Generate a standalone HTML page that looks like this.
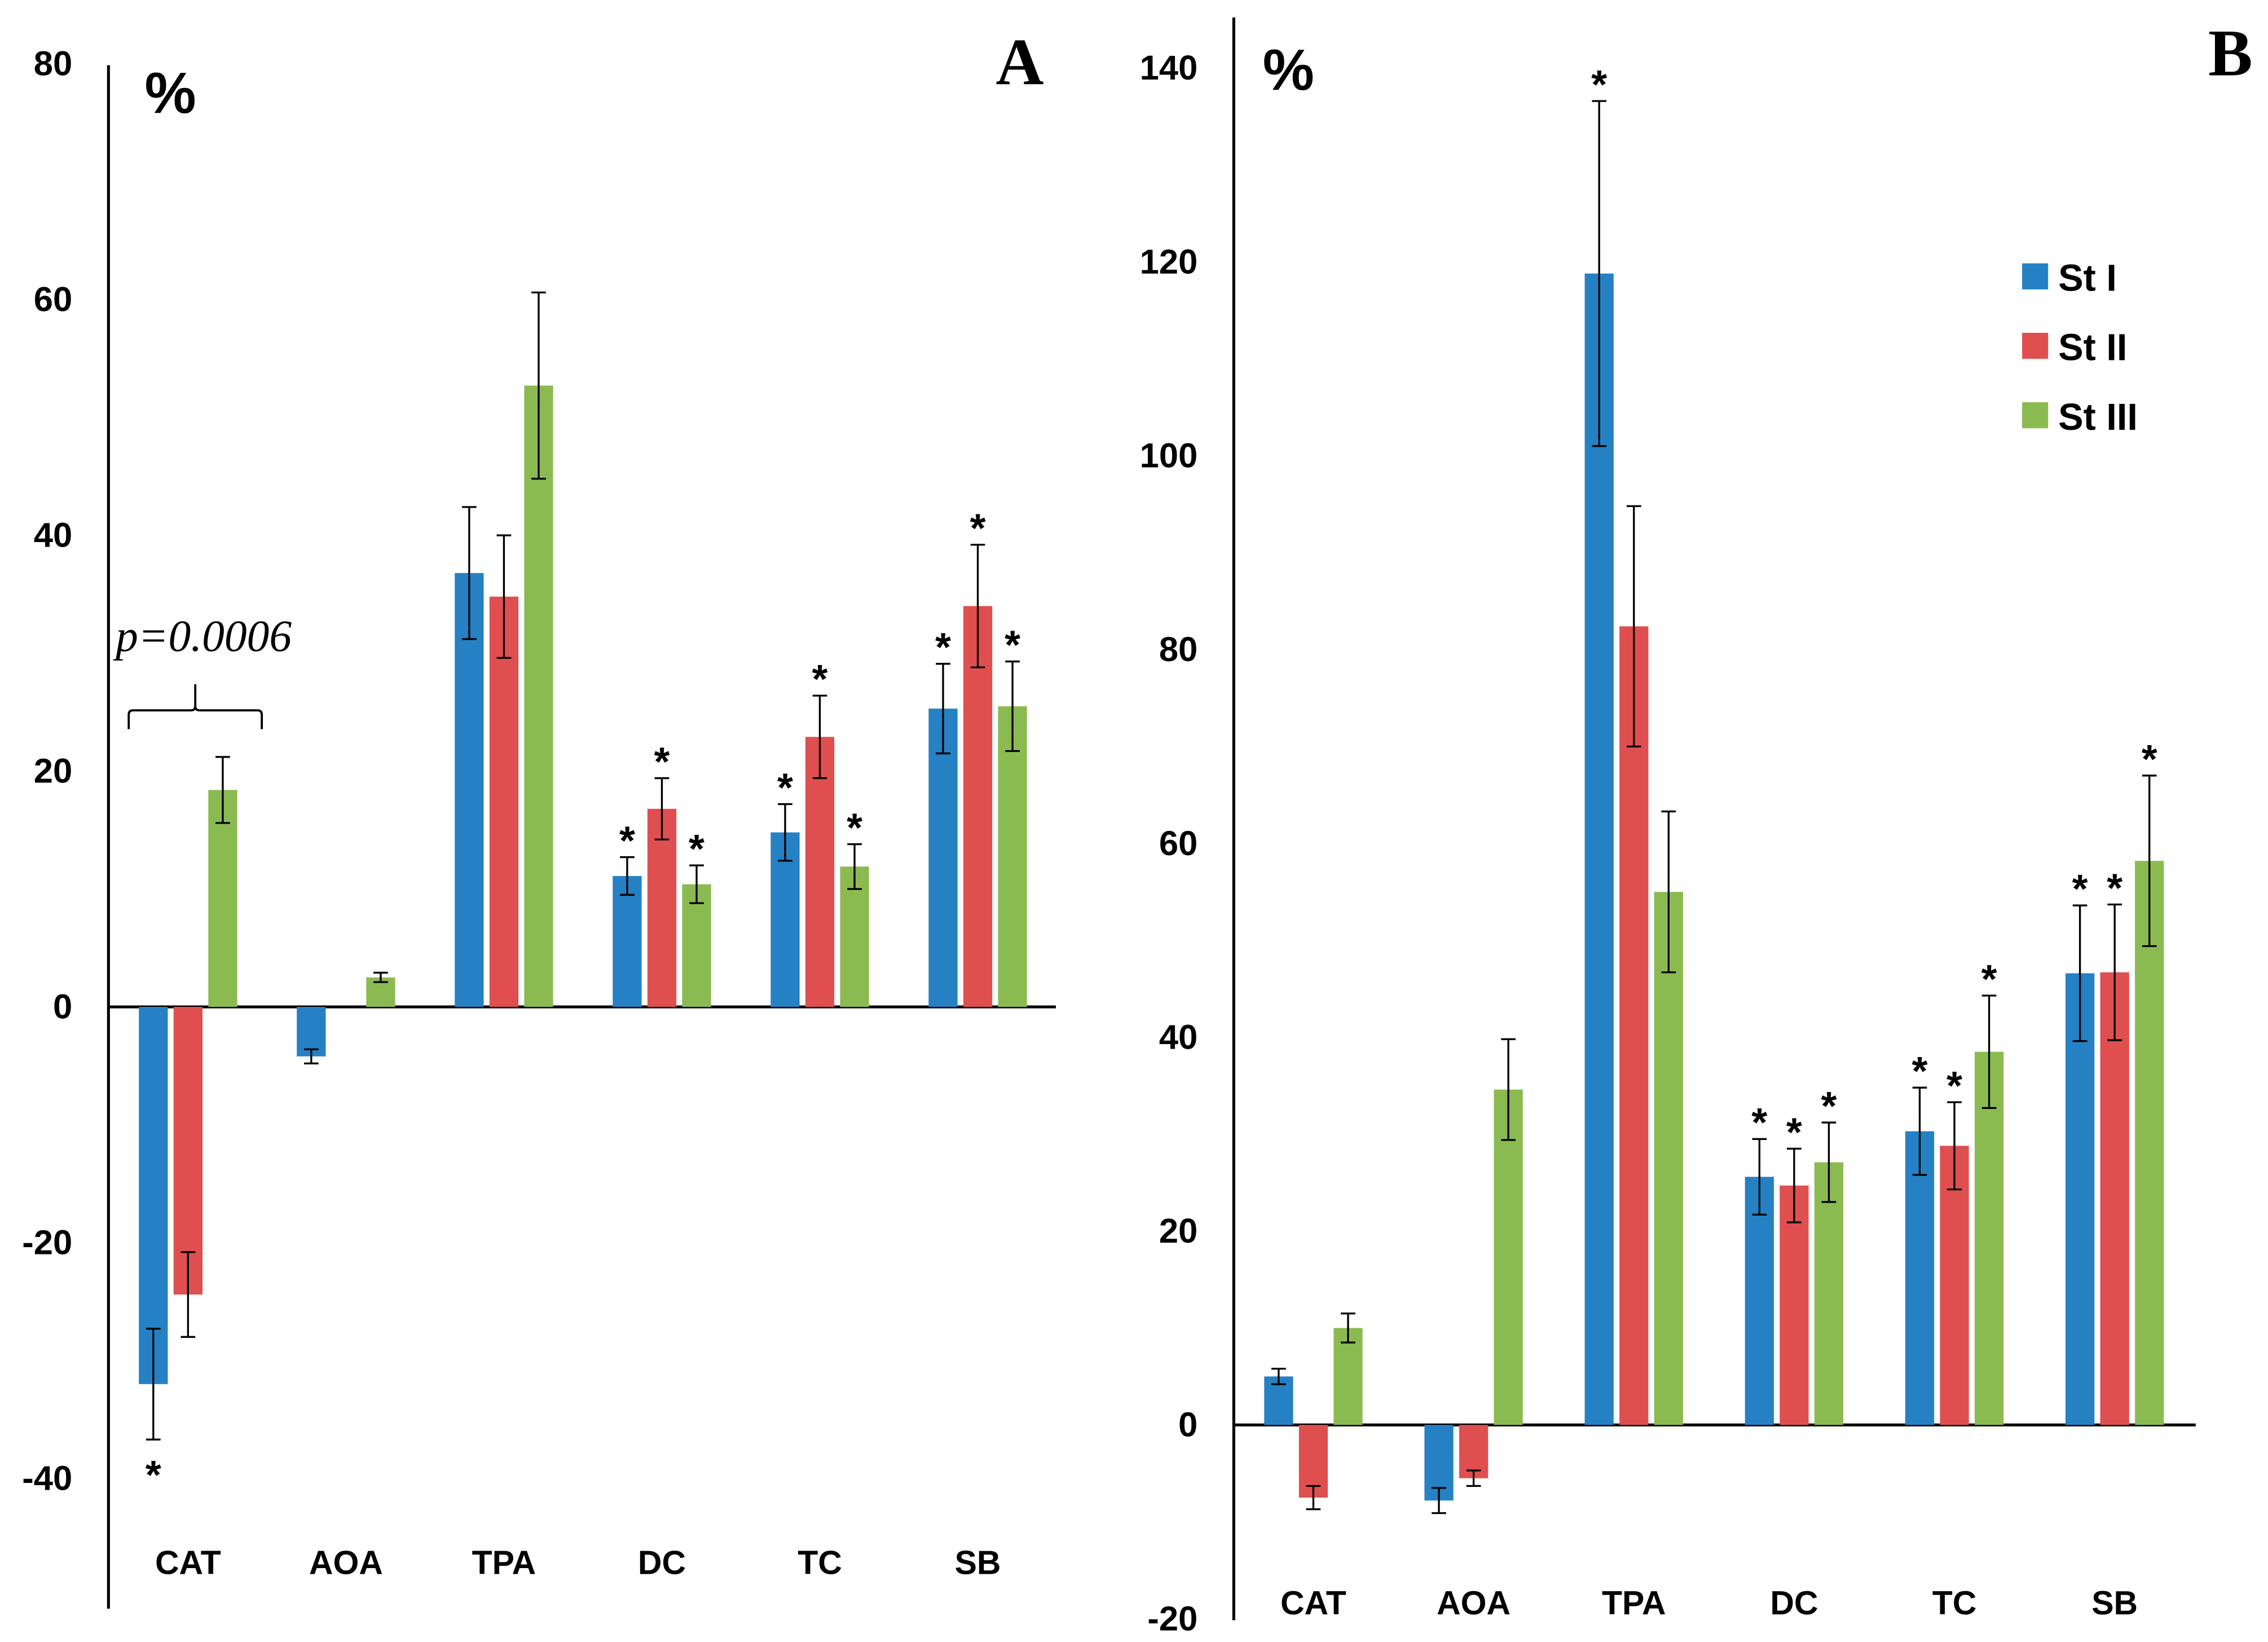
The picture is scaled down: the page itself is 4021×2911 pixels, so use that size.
<!DOCTYPE html>
<html><head><meta charset="utf-8"><style>
html,body{margin:0;padding:0;background:#fff}
svg{display:block}
text{font-family:"Liberation Sans",sans-serif;font-weight:bold;fill:#000}
</style></head><body>
<svg id="chart" width="4021" height="2911" viewBox="0 0 1568 1135" xmlns="http://www.w3.org/2000/svg"></svg>
<script>
const categories = ["CAT","AOA","TPA","DC","TC","SB"];
const seriesNames = ["St I","St II","St III"];
const colors = ["#2581c4","#e04f4f","#8bbb50"];
const aTicks = [80,60,40,20,0,-20,-40];
const aSt1 = [-32,-4.2,36.8,11.1,14.8,25.3];
const aSt2 = [-24.4,0,34.8,16.8,22.9,34.0];
const aSt3 = [18.4,2.5,52.7,10.4,11.9,25.5];
const aErr1 = [4.7,0.6,5.6,1.6,2.4,3.8];
const aErr2 = [3.6,0,5.2,2.6,3.5,5.2];
const aErr3 = [2.8,0.4,7.9,1.6,1.9,3.8];
const aStar1 = [1,0,0,1,1,1];
const aStar2 = [0,0,0,1,1,1];
const aStar3 = [0,0,0,1,1,1];
const bTicks = [140,120,100,80,60,40,20,0,-20];
const bSt1 = [5,-7.8,118.8,25.6,30.3,46.6];
const bSt2 = [-7.5,-5.5,82.4,24.7,28.8,46.7];
const bSt3 = [10,34.6,55,27.1,38.5,58.2];
const bErr1 = [0.8,1.3,17.8,3.9,4.5,7.0];
const bErr2 = [1.2,0.8,12.4,3.8,4.5,7.0];
const bErr3 = [1.5,5.2,8.3,4.1,5.8,8.8];
const bStar1 = [0,0,1,1,1,1];
const bStar2 = [0,0,0,1,1,1];
const bStar3 = [0,0,0,1,1,1];

const svg = document.getElementById('chart');
const NS = "http://www.w3.org/2000/svg";
function mk(tag, attrs, parent){const e=document.createElementNS(NS,tag);for(const k in attrs)e.setAttribute(k,attrs[k]);(parent||svg).appendChild(e);return e;}

function panel(p){
  const g = mk('g',{});
  
  
  const y = v => p.y0 - v*p.ppu;
  const x = i => p.x0 + i*p.step;
  const ax = mk('line',{x1:p.ax,y1:p.axTop,x2:p.ax,y2:p.axBot,stroke:'#000','stroke-width':2},g);
  
  
  const xa = mk('line',{x1:p.ax,y1:y(0),x2:p.xEnd,y2:y(0),stroke:'#000','stroke-width':2},g);
  
  
  p.ticks.forEach(t=>{
    const tx = mk('text',{x:p.tickX,y:y(t)+8,'text-anchor':'end','font-size':24},g);
    tx.textContent = t;
    
    
  });
  categories.forEach((c,i)=>{
    const tx = mk('text',{x:x(i),y:p.catY,'text-anchor':'middle','font-size':23},g);
    tx.textContent = c;
    
    
  });
  const series=[p.s1,p.s2,p.s3], errs=[p.e1,p.e2,p.e3], stars=[p.st1,p.st2,p.st3];
  series.forEach((s,si)=>{
    s.forEach((v,i)=>{
      const cx = x(i)+(si-1)*24;
      if(v!==0){
        const r = mk('rect',{x:cx-10,y:Math.min(y(v),y(0)),width:20,height:Math.abs(y(v)-y(0)),fill:colors[si]},g);
        
        
      }
      const e = errs[si][i];
      if(e>0){
        const t=y(v+e), b=y(v-e);
        mk('line',{x1:cx,y1:t,x2:cx,y2:b,stroke:'#000','stroke-width':1.3},g);
        mk('line',{x1:cx-5,y1:t,x2:cx+5,y2:t,stroke:'#000','stroke-width':1.3},g);
        mk('line',{x1:cx-5,y1:b,x2:cx+5,y2:b,stroke:'#000','stroke-width':1.3},g);
      }
      if(stars[si][i]){
        const sy = v>=0 ? y(v+e)-2 : y(v-e)+34;
        const st = mk('text',{x:cx,y:sy,'text-anchor':'middle','font-size':28},g);
        st.textContent='*';
        
        
      }
    });
  });
  const pc = mk('text',{x:p.pctX,y:p.pctY,'font-size':40},g);
  pc.textContent='%';
  
  
  const L = mk('text',{x:p.letX,y:p.letY,'font-size':46,'text-anchor':'middle',style:'font-family:"Liberation Serif",serif'},g);
  L.textContent=p.letter;
  
  
}

panel({name:'panel-a',x0:130,step:109.2,y0:696,ppu:8.15,ax:75,axTop:45,axBot:1112,xEnd:730,ticks:aTicks,tickX:50,catY:1088,
  s1:aSt1,s2:aSt2,s3:aSt3,e1:aErr1,e2:aErr2,e3:aErr3,st1:aStar1,st2:aStar2,st3:aStar3,pctX:100,pctY:78,letX:705,letY:58,letter:'A'});
panel({name:'panel-b',x0:908,step:110.8,y0:985,ppu:6.7,ax:853,axTop:12,axBot:1120,xEnd:1518,ticks:bTicks,tickX:828,catY:1116,
  s1:bSt1,s2:bSt2,s3:bSt3,e1:bErr1,e2:bErr2,e3:bErr3,st1:bStar1,st2:bStar2,st3:bStar3,pctX:873,pctY:62,letX:1542,letY:52,letter:'B'});

// p-value annotation
const pv = mk('text',{x:80,y:450,'font-size':31,style:'font-family:"Liberation Serif",serif;font-style:italic;font-weight:normal'});
pv.textContent='p=0.0006';


const br = mk('path',{d:'M89,504 L89,494 Q89,491 92,491 L132,491 Q135,491 135,488 L135,473 L135,488 Q135,491 138,491 L178,491 Q181,491 181,494 L181,504',fill:'none',stroke:'#000','stroke-width':1.5});



// legend
seriesNames.forEach((n,i)=>{
  const yy = 191 + i*48;
  const r = mk('rect',{x:1398,y:yy-9,width:18,height:18,fill:colors[i]});
  
  
  const t = mk('text',{x:1423,y:yy+10,'font-size':26});
  t.textContent=n;
  
  
});
</script>
</body></html>
